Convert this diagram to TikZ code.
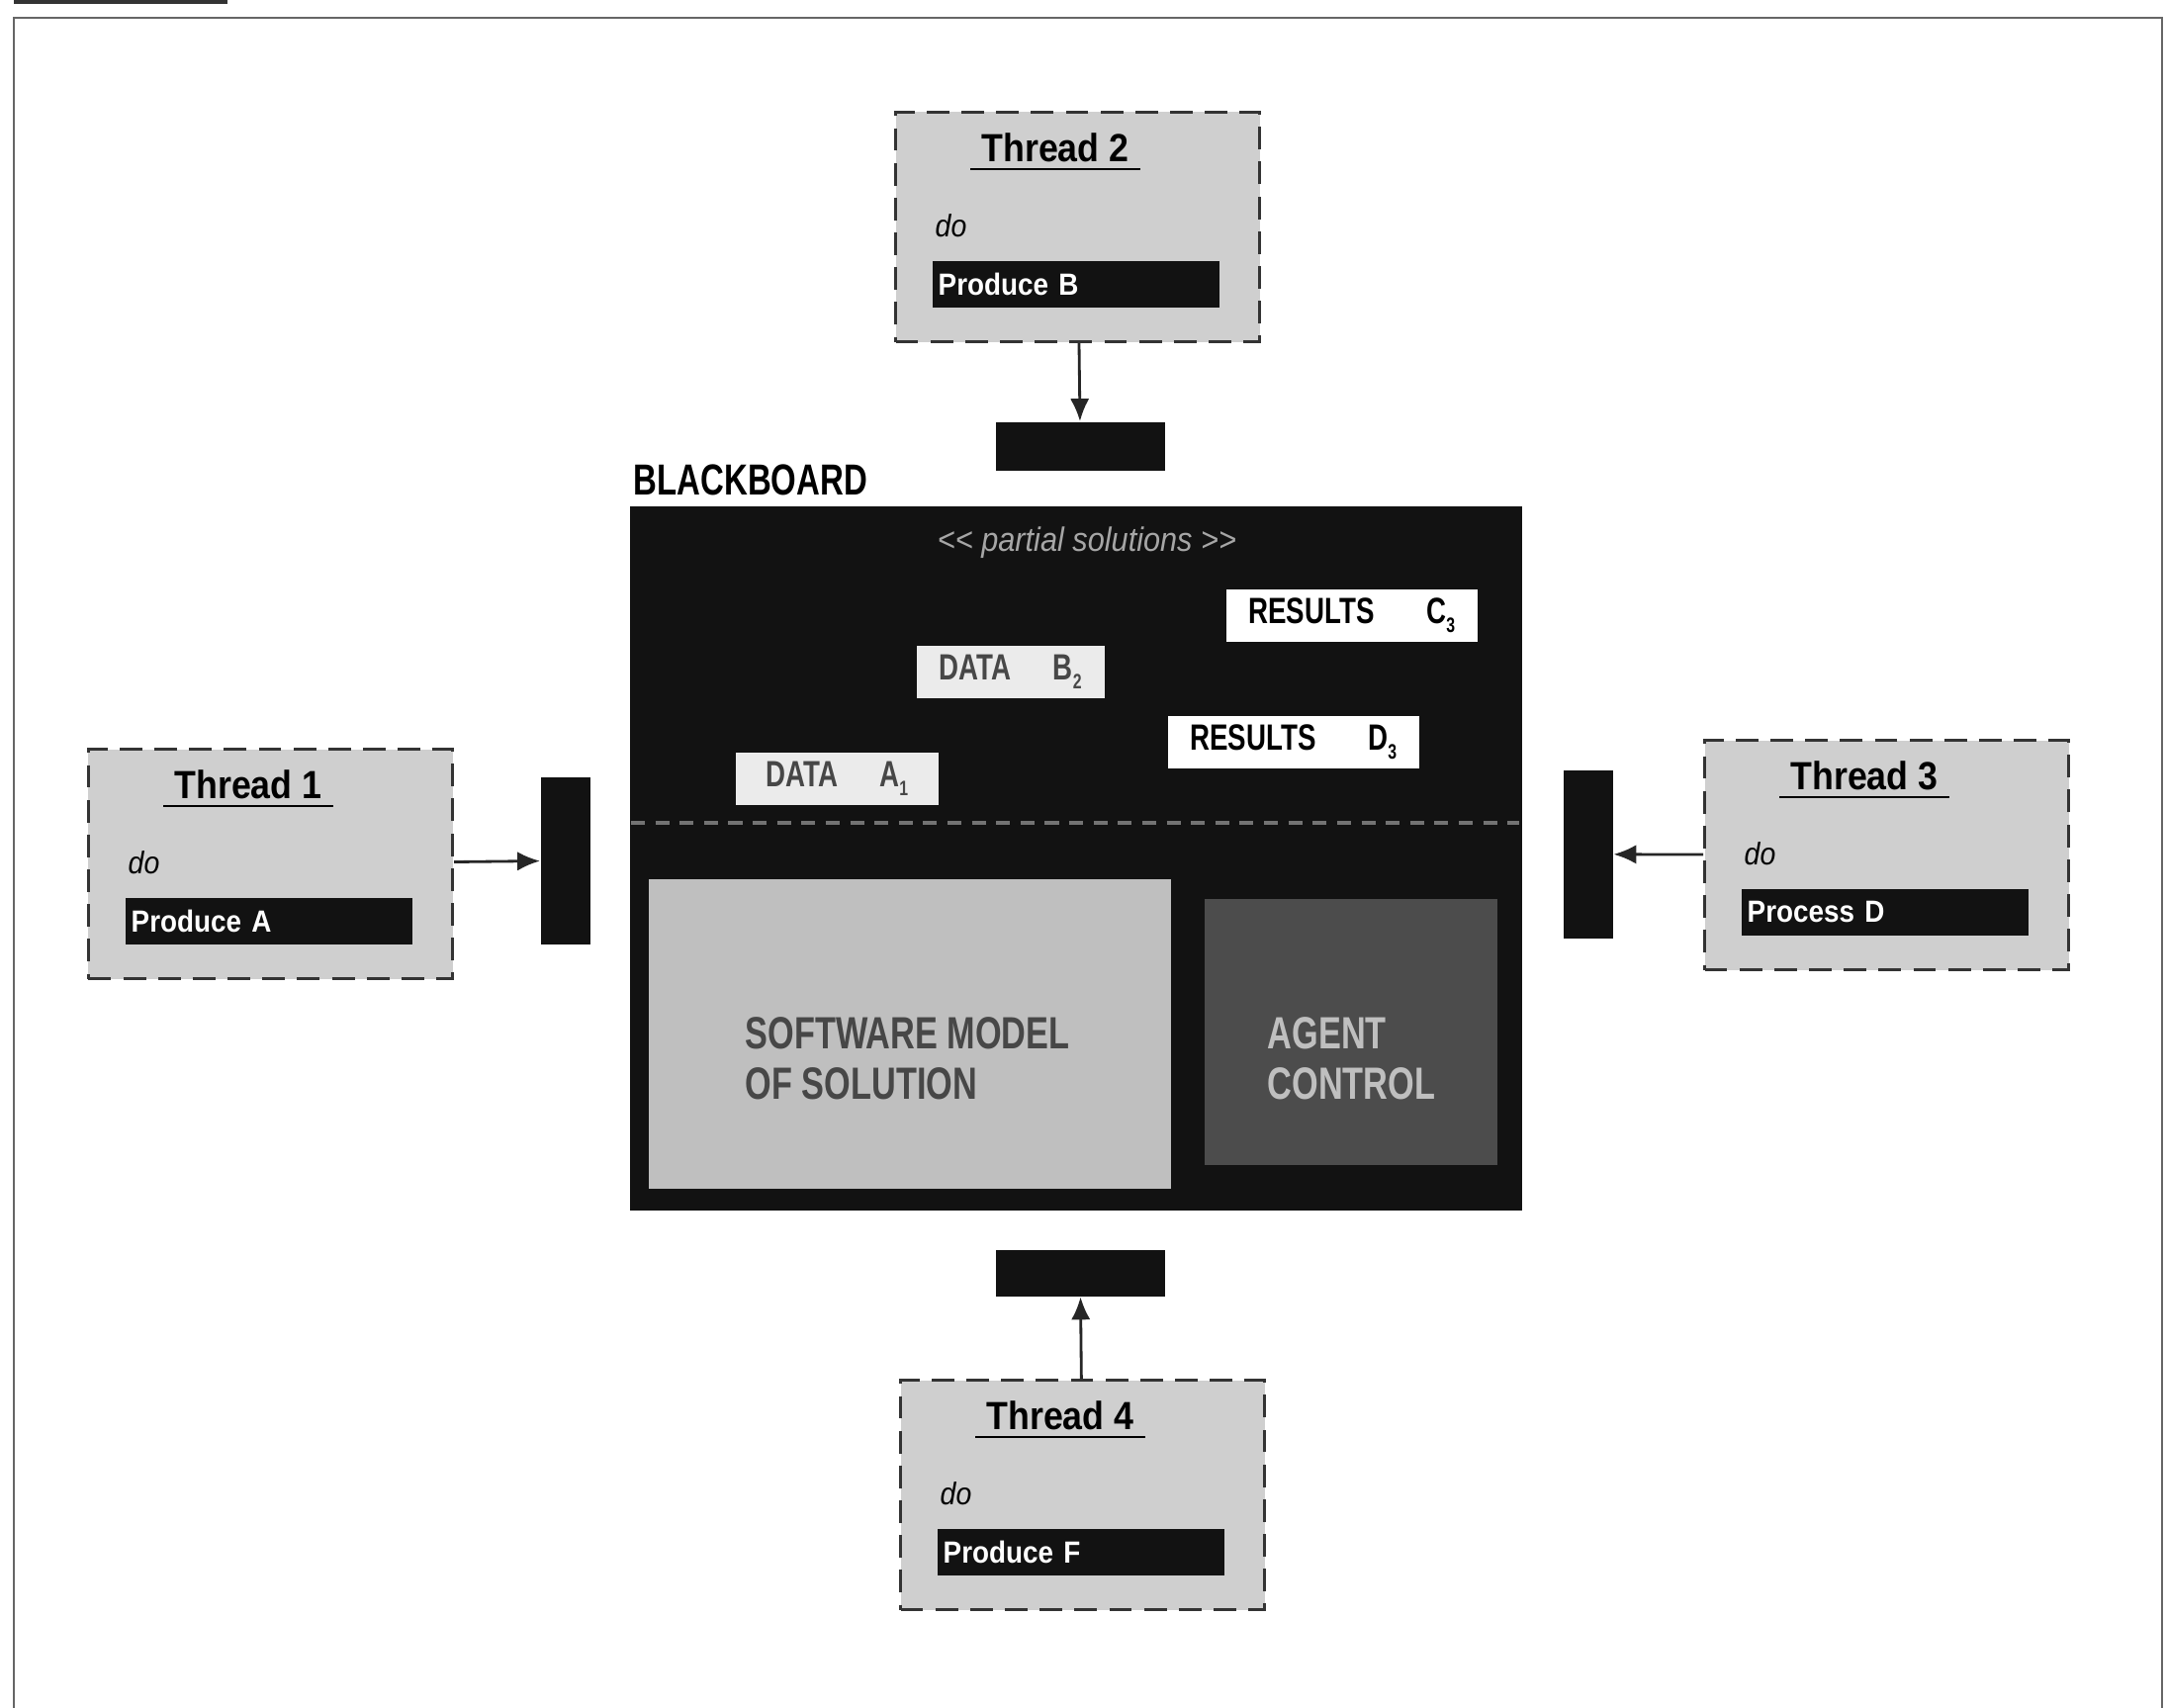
\documentclass[tikz,border=0pt]{standalone}
\usepackage{fontspec}
\setmainfont{Liberation Sans}
\newfontfamily\headfont[FakeStretch=0.9, Ligatures=TeXOff]{Liberation Sans}
\newfontfamily\capsfont[FakeStretch=0.75]{Liberation Sans}
\usepackage{tikz}
\usetikzlibrary{arrows.meta}
\colorlet{ThreadGray}{black!19}
\colorlet{BoardBlack}{black!93}
\colorlet{ModelGray}{black!25}
\colorlet{AgentGray}{black!70}
\colorlet{DataGray}{black!8}
\colorlet{InkGray}{black!72}
% small low index after a slot letter
\newcommand{\slotidx}[1]{\raisebox{-2.5pt}{\fontsize{6}{6}\selectfont #1}}

\begin{document}
\begin{tikzpicture}[x=0.01cm, y=-0.01cm,
  threadbox/.style={draw=black!80, line width=0.85pt, dash pattern=on 6.5pt off 3.5pt,
    fill=ThreadGray, minimum width=3.68cm, minimum height=2.32cm, anchor=north west, inner sep=0},
  threadtitle/.style={font=\headfont\bfseries\fontsize{11.3}{13}\selectfont, inner xsep=3pt, inner ysep=2pt, anchor=base},
  dolabel/.style={font=\headfont\itshape\fontsize{9}{11}\selectfont, anchor=base west, inner sep=0},
  taskbar/.style={fill=BoardBlack, text=white, font=\headfont\bfseries\fontsize{8.8}{10}\selectfont,
    text width=2.78cm, inner xsep=0.06cm, inner ysep=0, minimum height=0.47cm, anchor=north west},
  port/.style={fill=BoardBlack, inner sep=0, anchor=north west},
  slot/.style={font=\capsfont\bfseries\fontsize{10.5}{12}\selectfont, minimum height=0.53cm, inner sep=0, anchor=north west},
  flow/.style={-{Latex[length=6.5pt,width=5.5pt]}, line width=0.8pt, black!85}]

\useasboundingbox (0,0) rectangle (2190,1727);
\fill[white] (0,0) rectangle (2190,1727);

% page frame
\draw[black!60, line width=0.6pt] (14,1727) -- (14,18) -- (2186,18) -- (2186,1727);
\fill[black!80] (14,0) rectangle (230,4);

% Thread 2 (top)
\node[threadbox] (thread2) at (904,112) {};
\node[threadtitle] (thread2title) at (1067,163) {Thread 2};
\draw[thin] (thread2title.south west) -- (thread2title.south east);
\node[dolabel] (thread2do) at (945,239) {do};
\node[taskbar] (thread2task) at (942,263) {Produce B};

% Thread 1 (left)
\node[threadbox] (thread1) at (88,756) {};
\node[threadtitle] (thread1title) at (251,807) {Thread 1};
\draw[thin] (thread1title.south west) -- (thread1title.south east);
\node[dolabel] (thread1do) at (129,883) {do};
\node[taskbar] (thread1task) at (126,907) {Produce A};

% Thread 3 (right)
\node[threadbox] (thread3) at (1722,747) {};
\node[threadtitle] (thread3title) at (1885,798) {Thread 3};
\draw[thin] (thread3title.south west) -- (thread3title.south east);
\node[dolabel] (thread3do) at (1763,874) {do};
\node[taskbar] (thread3task) at (1760,898) {Process D};

% Thread 4 (bottom)
\node[threadbox] (thread4) at (909,1394) {};
\node[threadtitle] (thread4title) at (1072,1445) {Thread 4};
\draw[thin] (thread4title.south west) -- (thread4title.south east);
\node[dolabel] (thread4do) at (950,1521) {do};
\node[taskbar] (thread4task) at (947,1545) {Produce F};

% access ports round the board
\node[port, minimum width=1.71cm, minimum height=0.49cm] (portTop) at (1006,426) {};
\node[port, minimum width=1.71cm, minimum height=0.47cm] (portBottom) at (1006,1263) {};
\node[port, minimum width=0.50cm, minimum height=1.69cm] (portLeft) at (546,785) {};
\node[port, minimum width=0.50cm, minimum height=1.70cm] (portRight) at (1580,778) {};

% the blackboard
\node[anchor=base west, inner sep=0, font=\capsfont\bfseries\fontsize{12.5}{14}\selectfont] (boardlabel) at (640,500) {BLACKBOARD};
\node[fill=BoardBlack, minimum width=9.02cm, minimum height=7.12cm, anchor=north west, inner sep=0] (board) at (636,511) {};

\coordinate (sepL) at (638,832);
\coordinate (sepR) at (1536,832);
\draw[black!55, line width=1pt, dash pattern=on 4pt off 3pt] (sepL) -- (sepR);

\node[font=\headfont\itshape\fontsize{9.7}{11}\selectfont, text=black!35] (partial) at (1099,549) {<< partial solutions >>};

% partial solutions
\node[slot, fill=white, minimum width=2.54cm] (resultsC) at (1239,595) {RESULTS\hspace{15pt}C\slotidx{3}};
\node[slot, fill=DataGray, text=InkGray, minimum width=1.90cm] (dataB) at (926,652) {DATA\hspace{12pt}B\slotidx{2}};
\node[slot, fill=white, minimum width=2.54cm] (resultsD) at (1180,723) {RESULTS\hspace{15pt}D\slotidx{3}};
\node[slot, fill=DataGray, text=InkGray, minimum width=2.05cm] (dataA) at (743,760) {DATA\hspace{12pt}A\slotidx{1}};

% model and control
\node[fill=ModelGray, minimum width=5.28cm, minimum height=3.13cm, anchor=north west, inner sep=0] (model) at (655,888) {};
\node[anchor=west, align=left, inner sep=0, text=InkGray, font=\capsfont\bfseries\fontsize{13}{14.4}\selectfont] (modeltext) at (753,1070) {SOFTWARE MODEL\\OF SOLUTION};
\node[fill=AgentGray, minimum width=2.96cm, minimum height=2.69cm, anchor=north west, inner sep=0] (agent) at (1217,908) {};
\node[anchor=west, align=left, inner sep=0, text=black!25, font=\capsfont\bfseries\fontsize{13}{14.4}\selectfont] (agenttext) at (1281,1070) {AGENT\\CONTROL};

% threads write to the board
\draw[flow] (thread2) -- (portTop);
\draw[flow] (thread1) -- (portLeft);
\draw[flow] (thread3) -- (portRight);
\draw[flow] (thread4) -- (portBottom);

\end{tikzpicture}
\end{document}
